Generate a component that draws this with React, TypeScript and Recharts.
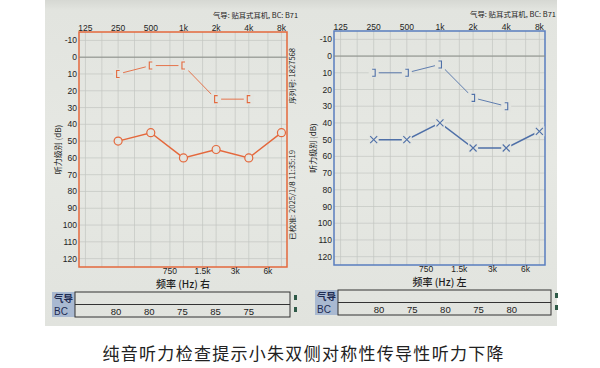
import React from 'react';
import { LineChart, Line, XAxis, YAxis, CartesianGrid, ReferenceLine, ReferenceArea } from 'recharts';

// audiogram axes
const FREQS = [125, 250, 500, 1000, 2000, 4000, 8000];
const HALF_FREQS = [750, 1500, 3000, 6000];
const GRID_FREQS = [125, 177, 250, 354, 500, 750, 1000, 1500, 2000, 3000, 4000, 6000, 8000];
const DB_TICKS = [-10, 0, 10, 20, 30, 40, 50, 60, 70, 80, 90, 100, 110, 120];

const AIR_FREQS = [250, 500, 1000, 2000, 4000, 8000];
const BONE_FREQS = [250, 500, 1000, 2000, 4000];

// right ear (右)
const RIGHT_AIR = [50, 45, 60, 55, 60, 45];
const RIGHT_BONE = [10, 5, 5, 25, 25];
const RIGHT_BC_ROW = [80, 80, 75, 85, 75];

// left ear (左)
const LEFT_AIR = [50, 50, 40, 55, 55, 45];
const LEFT_BONE = [10, 10, 5, 25, 30];
const LEFT_BC_ROW = [80, 75, 80, 75, 80];

const X_DOMAIN = [109, 9000];
const Y_DOMAIN = [-15, 125];

const PAPER = '#e3e5e0';
const ORANGE = '#e4683c';
const BLUE = '#4f70a8';
const BLUE_BORDER = '#5a7dbf';
const FONT = '"Liberation Sans", Arial, sans-serif';
const CJK = '"Noto Sans CJK SC", sans-serif';

const fmtFreq = (f: number) => (f >= 1000 ? `${f / 1000}k` : `${f}`);

const toRows = (freqs: number[], vals: number[]) => freqs.map((f, i) => ({ f, db: vals[i] }));

const circleDot = (color: string) => (p: any) => (
  <circle key={`c${p.index}`} cx={p.cx} cy={p.cy} r={4} fill={PAPER} stroke={color} strokeWidth={1.2} />
);

const crossDot = (color: string) => (p: any) => {
  const { cx, cy } = p;
  const s = 3.5;
  return (
    <g key={`x${p.index}`}>
      <rect x={cx - 5} y={cy - 5} width={10} height={10} fill={PAPER} />
      <path d={`M${cx - s} ${cy - s} L${cx + s} ${cy + s} M${cx - s} ${cy + s} L${cx + s} ${cy - s}`} stroke={color} strokeWidth={1.1} />
    </g>
  );
};

// dir -1 => "[", dir 1 => "]"
const bracketDot = (color: string, dir: number) => (p: any) => {
  const { cx, cy } = p;
  return (
    <g key={`b${p.index}`}>
      <rect x={cx - 5} y={cy - 5.5} width={10} height={11} fill={PAPER} />
      <path
        d={`M${cx - dir * 1.5} ${cy - 3.5} H${cx + dir * 1.5} V${cy + 3.5} H${cx - dir * 1.5}`}
        fill="none"
        stroke={color}
        strokeWidth={1.1}
      />
    </g>
  );
};

interface AudiogramProps {
  left: number;
  rightMargin: number;
  topH: number;
  bottomH: number;
  labelOffset: number;
  border: string;
  lineColor: string;
  air: { f: number; db: number }[];
  bone: { f: number; db: number }[];
  airDot: any;
  boneDot: any;
  xLabel: string;
}

function Audiogram(props: AudiogramProps) {
  const tick = { fontSize: 8.5, fill: '#1e1e1e', fontFamily: FONT };
  return (
    <div style={{ position: 'absolute', left: props.left, top: 0 }}>
      <LineChart width={300} height={300} margin={{ top: 0, right: props.rightMargin, left: 0, bottom: 0 }}>
        <CartesianGrid
          horizontalValues={DB_TICKS}
          verticalValues={GRID_FREQS}
          stroke="#c3c6c1"
          strokeWidth={0.7}
        />
        <XAxis
          xAxisId={0}
          type="number"
          dataKey="f"
          scale="log"
          domain={X_DOMAIN}
          ticks={FREQS}
          tickFormatter={fmtFreq}
          orientation="top"
          height={props.topH}
          axisLine={false}
          tickLine={false}
          tickSize={0}
          tickMargin={1}
          tick={tick}
          allowDataOverflow
          interval={0}
        />
        <XAxis
          xAxisId="b"
          type="number"
          dataKey="f"
          scale="log"
          domain={X_DOMAIN}
          ticks={HALF_FREQS}
          tickFormatter={fmtFreq}
          orientation="bottom"
          height={props.bottomH}
          axisLine={false}
          tickLine={false}
          tickSize={0}
          tickMargin={1}
          tick={tick}
          allowDataOverflow
          interval={0}
          label={{
            value: props.xLabel,
            position: 'insideBottom',
            offset: props.labelOffset,
            style: { fontSize: 10, fill: '#1e1e1e', fontFamily: CJK, fontWeight: 500 },
          }}
        />
        <YAxis
          type="number"
          domain={Y_DOMAIN}
          reversed
          ticks={DB_TICKS}
          width={79}
          axisLine={false}
          tickLine={false}
          tickSize={0}
          tickMargin={2}
          tick={tick}
          allowDataOverflow
          interval={0}
          label={{
            value: '听力级别 (dB)',
            angle: -90,
            position: 'insideLeft',
            offset: 58,
            style: { fontSize: 8, fill: '#1e1e1e', fontFamily: CJK, textAnchor: 'middle' },
          }}
        />
        <ReferenceLine y={0} stroke="#8b8e89" strokeWidth={1} />
        <Line
          data={props.bone}
          dataKey="db"
          stroke={props.lineColor}
          strokeWidth={0.9}
          dot={props.boneDot}
          isAnimationActive={false}
        />
        <Line
          data={props.air}
          dataKey="db"
          stroke={props.lineColor}
          strokeWidth={1.5}
          dot={props.airDot}
          isAnimationActive={false}
        />
        <ReferenceArea
          x1={X_DOMAIN[0]}
          x2={X_DOMAIN[1]}
          y1={Y_DOMAIN[0]}
          y2={Y_DOMAIN[1]}
          fill="none"
          fillOpacity={0}
          stroke={props.border}
          strokeWidth={1.5}
        />
      </LineChart>
    </div>
  );
}

function BcTable({ x, y, w, values }: { x: number; y: number; w: number; values: number[] }) {
  const h = 25;
  return (
    <g>
      <rect x={x - 23} y={y} width={23} height={h} fill="#a9b9d1" />
      <text x={x - 21} y={y + 10} fontSize={9.5} fontWeight="bold" fill="#1d2b52" fontFamily={CJK}>
        气导
      </text>
      <text x={x - 21} y={y + 22.5} fontSize={10} fill="#1d2b52" fontFamily={FONT}>
        BC
      </text>
      <rect x={x} y={y} width={w} height={h} fill="none" stroke="#333" strokeWidth={1} />
      <line x1={x} x2={x + w} y1={y + 12.5} y2={y + 12.5} stroke="#333" strokeWidth={1} />
      {values.map((v, i) => (
        <text key={i} x={x + 41 + i * 33.2} y={y + 22.5} fontSize={9.5} fill="#222" fontFamily={FONT} textAnchor="middle">
          {v}
        </text>
      ))}
      <rect x={x + w + 4} y={y + 3} width={3} height={5} fill="#2f5a48" />
      <rect x={x + w + 4} y={y + 15} width={3} height={5} fill="#2f5a48" />
    </g>
  );
}

export default function App() {
  return (
    <div style={{ position: 'absolute', left: 0, top: 0, width: 600, height: 368, background: '#fff', overflow: 'hidden' }}>
      <div
        style={{
          position: 'absolute',
          left: 45,
          top: 0,
          width: 512,
          height: 326,
          background: 'linear-gradient(180deg, #d6d8d3 0px, #e2e4df 10px, #e6e8e3 160px, #e1e3de 326px)',
        }}
      />
      <Audiogram
        left={0}
        rightMargin={13}
        topH={32}
        bottomH={33}
        labelOffset={12}
        border={ORANGE}
        lineColor={ORANGE}
        air={toRows(AIR_FREQS, RIGHT_AIR)}
        bone={toRows(BONE_FREQS, RIGHT_BONE)}
        airDot={circleDot(ORANGE)}
        boneDot={bracketDot(ORANGE, -1)}
        xLabel="频率 (Hz) 右"
      />
      <Audiogram
        left={255}
        rightMargin={10}
        topH={31}
        bottomH={35}
        labelOffset={14}
        border={BLUE_BORDER}
        lineColor={BLUE}
        air={toRows(AIR_FREQS, LEFT_AIR)}
        bone={toRows(BONE_FREQS, LEFT_BONE)}
        airDot={crossDot(BLUE)}
        boneDot={bracketDot(BLUE, 1)}
        xLabel="频率 (Hz) 左"
      />
      <svg width={600} height={368} style={{ position: 'absolute', left: 0, top: 0, pointerEvents: 'none' }}>
        <text x={213} y={18} fontSize={7} fill="#222" fontFamily={CJK} textLength={85} lengthAdjust="spacingAndGlyphs">
          气导: 贴耳式耳机, BC: B71
        </text>
        <text x={470} y={17} fontSize={7} fill="#222" fontFamily={CJK} textLength={86} lengthAdjust="spacingAndGlyphs">
          气导: 贴耳式耳机, BC: B71
        </text>
        <text
          x={0}
          y={0}
          fontSize={7}
          fill="#222"
          fontFamily={CJK}
          textAnchor="middle"
          textLength={56}
          lengthAdjust="spacingAndGlyphs"
          transform="translate(295 76) rotate(-90)"
        >
          序列号: 1827568
        </text>
        <text
          x={0}
          y={0}
          fontSize={7}
          fill="#222"
          fontFamily={CJK}
          textAnchor="middle"
          textLength={90}
          lengthAdjust="spacingAndGlyphs"
          transform="translate(295 195) rotate(-90)"
        >
          已校准: 2025/1/8 11:35:19
        </text>
        <BcTable x={75} y={292} w={215} values={RIGHT_BC_ROW} />
        <BcTable x={338} y={290} w={213} values={LEFT_BC_ROW} />
        <text
          x={303}
          y={360}
          fontSize={17}
          fill="#222"
          fontFamily={CJK}
          textAnchor="middle"
          textLength={401}
          lengthAdjust="spacing"
        >
          纯音听力检查提示小朱双侧对称性传导性听力下降
        </text>
      </svg>
    </div>
  );
}
